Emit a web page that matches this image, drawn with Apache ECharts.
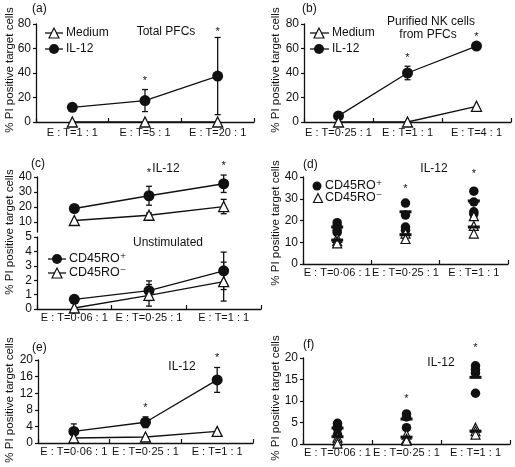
<!DOCTYPE html>
<html><head><meta charset="utf-8">
<script src="https://cdn.jsdelivr.net/npm/echarts@6/dist/echarts.min.js"></script>
<style>html,body{margin:0;padding:0;background:#fff}#c{width:515px;height:467px}</style>
</head><body><div id="c"></div>
<script>
// ---------- categories ----------
const catsA = ['E : T=1 : 1', 'E : T=5 : 1', 'E : T=20 : 1'];
const catsB = ['E : T=0·25 : 1', 'E : T=1 : 1', 'E : T=4 : 1'];
const catsCDEF = ['E : T=0·06 : 1', 'E : T=0·25 : 1', 'E : T=1 : 1'];

// ---------- panel (a) ----------
const aMedium = [0, 0, 0];
const aIL12 = [12, 17.5, 37.5];
const aIL12Err = [0, 9, 31.5];
const aStars = [null, 33.5, 73.5];

// ---------- panel (b) ----------
const bMedium = [0, 0, 12.8];
const bIL12 = [5, 40, 62];
const bIL12Err = [0, 5.5, 2];
const bStars = [null, 52.5, 69.5];

// ---------- panel (c) IL-12 ----------
const cPosIL12 = [19, 27.5, 35.5];
const cPosIL12Err = [0, 6.3, 5.8];
const cNegIL12 = [11, 14.5, 20.3];
const cNegIL12Err = [0, 1.5, 4.8];
const cStars = [null, 42.5, 47.5];
// ---------- panel (c) unstimulated ----------
const cPosUn = [0.67, 1.27, 2.65];
const cPosUnErr = [0, 0.68, 1.3];
const cNegUn = [0.07, 0.95, 1.9];
const cNegUnErr = [0, 0.75, 1.35];

// ---------- panel (d) ----------
const dPos = [[19, 17.5, 15.5, 14.5], [28, 22.5, 17, 15.5], [33.5, 28.5, 24, 23]];
const dPosMean = [17, 24, 29];
const dNeg = [[12, 10.5, 9.5], [14, 11.5], [22, 17.5, 14]];
const dNegMean = [11, 13.5, 17];
const dStars = [null, 34.4, 41.2];

// ---------- panel (e) ----------
const ePos = [2.8, 5.0, 15.2];
const ePosErr = [1.8, 1.3, 3];
const eNeg = [1.2, 1.45, 2.8];
const eStars = [null, 8.4, 20.4];

// ---------- panel (f) ----------
const fPos = [[4.8, 4.2, 3.6, 2.2], [7, 6.3, 3.8], [18.2, 17.3, 16.5, 11.8]];
const fPosMean = [3.7, 5.8, 15.5];
const fNeg = [[1.5, 0.8, 0.1], [2.2, 1.2, 0.8], [3.8, 3, 2.2]];
const fNegMean = [1.7, 1.6, 3];
const fStars = [null, 10.4, 22.4];

const FONT = 'Liberation Sans, Arial, DejaVu Sans, sans-serif';
const INK = '#111';

const grids = [
  {left: 36, top: 24, width: 218, height: 98},    // a
  {left: 304, top: 24, width: 207, height: 98},   // b
  {left: 37, top: 177, width: 224, height: 55},   // c top
  {left: 37, top: 237, width: 224, height: 72},   // c bottom
  {left: 303, top: 177, width: 205, height: 87},  // d
  {left: 38, top: 360, width: 215, height: 83},   // e
  {left: 303, top: 358, width: 207, height: 86}   // f
];

function xAx(gi, cats, margin, show) {
  return {
    type: 'category', gridIndex: gi, data: cats, boundaryGap: true, show: show !== false,
    axisLine: {lineStyle: {color: INK, width: 1.3}},
    axisTick: {show: true, inside: true, length: 4, alignWithLabel: false, lineStyle: {color: INK, width: 1.2}},
    axisLabel: {color: INK, fontSize: 11, fontFamily: FONT, margin: margin, interval: 0, hideOverlap: false},
    splitLine: {show: false}
  };
}
function yAx(gi, min, max, interval, custom) {
  const ax = {
    type: 'value', gridIndex: gi, min: min, max: max,
    axisLine: {show: true, lineStyle: {color: INK, width: 1.3}},
    axisTick: {show: true, inside: false, length: 3, lineStyle: {color: INK, width: 1.2}},
    axisLabel: {color: INK, fontSize: 12, fontFamily: FONT, margin: 5},
    splitLine: {show: false}
  };
  if (interval != null) ax.interval = interval;
  if (custom) { ax.axisLabel.customValues = custom; ax.axisTick.customValues = custom; }
  return ax;
}

const xAxes = [
  xAx(0, catsA, 5), xAx(1, catsB, 5), xAx(2, catsCDEF, 3, false), xAx(3, catsCDEF, 3),
  xAx(4, catsCDEF, 3), xAx(5, catsCDEF, 3), xAx(6, catsCDEF, 3)
];
const yAxes = [
  yAx(0, 0, 80, 20), yAx(1, 0, 80, 20), yAx(2, 3.33, 40, null, [10, 20, 30, 40]),
  yAx(3, 0, 5, 1), yAx(4, 0, 40, 10), yAx(5, 0, 20, 4), yAx(6, 0, 20, 5)
];

function lineS(name, data, gi, filled) {
  return {
    type: 'line', name: name, xAxisIndex: gi, yAxisIndex: gi, data: data,
    symbol: filled ? 'circle' : 'triangle', symbolSize: filled ? 11 : 10,
    lineStyle: {color: INK, width: 1.3},
    itemStyle: filled ? {color: INK, opacity: 1} : {color: '#fff', borderColor: INK, borderWidth: 1.3, opacity: 1},
    z: filled ? 3 : 4, animation: false, clip: false
  };
}
function errS(means, errs, gi) {
  return {
    type: 'custom', xAxisIndex: gi, yAxisIndex: gi, z: 2, clip: false,
    data: means.map((m, i) => [i, m, errs[i]]),
    encode: {x: 0, y: 1},
    renderItem: function (params, api) {
      const i = api.value(0), m = api.value(1), e = api.value(2);
      if (!e) return null;
      const p1 = api.coord([i, m + e]), p2 = api.coord([i, m - e]);
      const w = 3, st = {stroke: INK, lineWidth: 1.3};
      return {type: 'group', children: [
        {type: 'line', shape: {x1: p1[0], y1: p1[1], x2: p2[0], y2: p2[1]}, style: st},
        {type: 'line', shape: {x1: p1[0] - w, y1: p1[1], x2: p1[0] + w, y2: p1[1]}, style: st},
        {type: 'line', shape: {x1: p2[0] - w, y1: p2[1], x2: p2[0] + w, y2: p2[1]}, style: st}
      ]};
    }
  };
}
function starS(stars, gi) {
  const data = [];
  stars.forEach((s, i) => { if (s != null) data.push([i, s]); });
  return {
    type: 'custom', xAxisIndex: gi, yAxisIndex: gi, z: 5, clip: false, data: data,
    encode: {x: 0, y: 1},
    renderItem: function (params, api) {
      const p = api.coord([api.value(0), api.value(1)]);
      return {type: 'text', x: p[0], y: p[1],
        style: {text: '*', fill: INK, font: '11px ' + FONT, align: 'center', verticalAlign: 'middle'}};
    }
  };
}
function dotsS(groups, gi, filled) {
  const data = [];
  groups.forEach((g, i) => g.forEach(v => data.push([i, v])));
  return {
    type: 'scatter', xAxisIndex: gi, yAxisIndex: gi, data: data,
    symbol: filled ? 'circle' : 'triangle', symbolSize: filled ? 9.5 : 9,
    itemStyle: filled ? {color: INK, opacity: 1} : {color: '#fff', borderColor: INK, borderWidth: 1.2, opacity: 1},
    z: filled ? 3 : 4, clip: false
  };
}
function meanS(means, gi) {
  return {
    type: 'scatter', xAxisIndex: gi, yAxisIndex: gi, data: means.map((m, i) => [i, m]),
    symbol: 'rect', symbolSize: [12, 3], itemStyle: {color: INK, opacity: 1}, z: 5
  };
}

const series = [
  // a
  errS(aIL12, aIL12Err, 0), lineS('IL-12', aIL12, 0, true), lineS('Medium', aMedium, 0, false), starS(aStars, 0),
  // b
  errS(bIL12, bIL12Err, 1), lineS('IL-12', bIL12, 1, true), lineS('Medium', bMedium, 1, false), starS(bStars, 1),
  // c top
  errS(cPosIL12, cPosIL12Err, 2), errS(cNegIL12, cNegIL12Err, 2),
  lineS('CD45RO+', cPosIL12, 2, true), lineS('CD45RO-', cNegIL12, 2, false), starS(cStars, 2),
  // c bottom
  errS(cPosUn, cPosUnErr, 3), errS(cNegUn, cNegUnErr, 3),
  lineS('CD45RO+', cPosUn, 3, true), lineS('CD45RO-', cNegUn, 3, false),
  // d
  dotsS(dPos, 4, true), dotsS(dNeg, 4, false), meanS(dPosMean, 4), meanS(dNegMean, 4), starS(dStars, 4),
  // e
  errS(ePos, ePosErr, 5), lineS('CD45RO+', ePos, 5, true), lineS('CD45RO-', eNeg, 5, false), starS(eStars, 5),
  // f
  dotsS(fPos, 6, true), dotsS(fNeg, 6, false), meanS(fPosMean, 6), meanS(fNegMean, 6), starS(fStars, 6)
];

// ---------- annotations (text + legends) ----------
function txt(x, y, s, size, align, rot) {
  return {type: 'text', x: x, y: y, rotation: rot || 0, silent: true,
    style: {text: s, fill: INK, font: (size || 12) + 'px ' + FONT, align: align || 'left', verticalAlign: 'middle'}};
}
function lineG(x1, y, x2) {
  return {type: 'line', shape: {x1: x1, y1: y, x2: x2, y2: y}, style: {stroke: INK, lineWidth: 1.3}, silent: true};
}
function circG(cx, cy, r) {
  return {type: 'circle', shape: {cx: cx, cy: cy, r: r}, style: {fill: INK}, silent: true};
}
function triG(cx, cy, s) {
  return {type: 'polygon', shape: {points: [[cx, cy - s / 2], [cx - s / 2, cy + s / 2], [cx + s / 2, cy + s / 2]]},
    style: {fill: '#fff', stroke: INK, lineWidth: 1.2}, silent: true};
}
const YT = '% PI positive target cells';
const R = Math.PI / 2;
const graphics = [
  // y titles
  txt(10, 70, YT, 11.5, 'center', R), txt(276, 70, YT, 11.5, 'center', R),
  txt(10, 232, YT, 11.5, 'center', R), txt(276, 223, YT, 11.5, 'center', R),
  txt(10, 400, YT, 11.5, 'center', R), txt(276, 398, YT, 11.5, 'center', R),
  // panel letters
  txt(32, 9, '(a)', 12), txt(302, 9, '(b)', 12), txt(31, 164, '(c)', 12),
  txt(303, 165, '(d)', 12), txt(32, 348, '(e)', 12), txt(303, 345, '(f)', 12),
  // titles
  txt(166, 32, 'Total PFCs', 12, 'center'),
  txt(431, 22, 'Purified NK cells', 12, 'center'), txt(428, 35, 'from PFCs', 12, 'center'),
  txt(166, 169, 'IL-12', 12, 'center'), txt(168, 243, 'Unstimulated', 12, 'center'),
  txt(434, 169, 'IL-12', 12, 'center'), txt(182, 367, 'IL-12', 12, 'center'), txt(441, 363, 'IL-12', 12, 'center'),
  // legend (a)
  lineG(45, 33, 63), triG(54, 33, 10), txt(66, 33, 'Medium', 12),
  lineG(45, 49, 63), circG(54, 49, 5), txt(66, 49, 'IL-12', 12),
  // legend (b)
  lineG(310, 33, 329), triG(319, 33, 10), txt(332, 33, 'Medium', 12),
  lineG(310, 49, 329), circG(319, 49, 5), txt(332, 49, 'IL-12', 12),
  // legend (c)
  lineG(48, 259, 66), circG(57, 259, 5), txt(69, 259, 'CD45RO⁺', 12.5),
  lineG(48, 273, 66), triG(57, 273, 10), txt(69, 273, 'CD45RO⁻', 12.5),
  // legend (d)
  circG(317, 186, 4.5), txt(325, 186, 'CD45RO⁺', 12.5),
  triG(318, 198, 9), txt(325, 198, 'CD45RO⁻', 12.5)
];

const chart = echarts.init(document.getElementById('c'), null, {renderer: 'canvas'});
chart.setOption({
  animation: false,
  backgroundColor: '#fff',
  textStyle: {fontFamily: FONT},
  grid: grids,
  xAxis: xAxes,
  yAxis: yAxes,
  series: series,
  graphic: {elements: graphics}
});
</script>
</body></html>
